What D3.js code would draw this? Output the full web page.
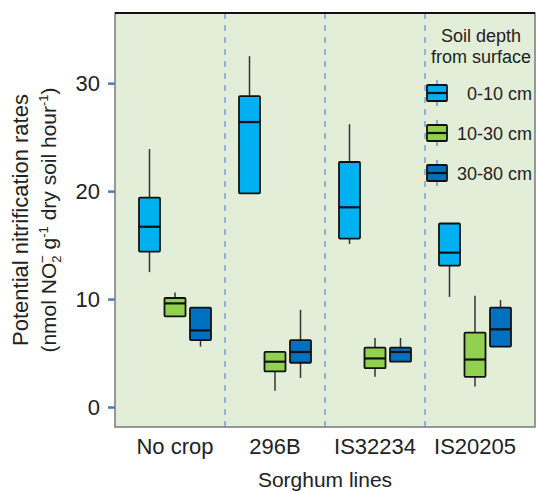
<!DOCTYPE html>
<html>
<head>
<meta charset="utf-8">
<script src="https://cdn.jsdelivr.net/npm/d3@7"></script>
<style>
  body { margin: 0; background: #fff; }
  text { font-family: "Liberation Sans", Arial, sans-serif; fill: #222; }
</style>
</head>
<body>
<div id="chart"></div>
<script>
// sorghum lines on the x axis, soil depths as series
var groups = ["No crop", "296B", "IS32234", "IS20205"];
var depths = ["0-10 cm", "10-30 cm", "30-80 cm"];
var colors = ["#00b0f0", "#92d050", "#0070c0"];
var yTicks = [0, 10, 20, 30];

// [whisker low, q1, median, q3, whisker high] per sorghum line
var depth0_10 = [[12.5, 14.4, 16.7, 19.4, 23.9], [19.8, 19.8, 26.4, 28.8, 32.5], [15.1, 15.6, 18.5, 22.7, 26.2], [10.2, 13.1, 14.3, 17.0, 17.0]];
var depth10_30 = [[8.4, 8.4, 9.6, 10.1, 10.6], [1.5, 3.3, 4.2, 5.1, 5.1], [2.8, 3.6, 4.5, 5.5, 6.4], [1.9, 2.8, 4.4, 6.9, 10.3]];
var depth30_80 = [[5.6, 6.2, 7.1, 9.2, 9.2], [2.7, 4.1, 5.1, 6.2, 9.0], [4.2, 4.2, 5.1, 5.5, 6.4], [5.6, 5.6, 7.2, 9.2, 9.9]];
var series = [depth0_10, depth10_30, depth30_80];

var width = 536, height = 491;
var plotL = 115, plotR = 535, plotT = 13, plotB = 427;
var boxW = 21;

var svg = d3.select("#chart").append("svg")
  .attr("width", width)
  .attr("height", height);

var x = d3.scaleBand().domain(groups).range([125, 525]).padding(0);
var xSub = d3.scalePoint().domain(depths).range([-25.5, 25.5]);
var y = d3.scaleLinear().domain([-1.85, 36.5]).range([plotB, plotT]);

// panel background
svg.append("rect")
  .attr("x", plotL).attr("y", plotT)
  .attr("width", plotR - plotL).attr("height", plotB - plotT)
  .style("fill", "#e3eed9");

// dashed dividers between sorghum lines
svg.selectAll(".divider")
  .data(groups.slice(1))
  .enter().append("line")
  .attr("x1", function(d) { return x(d); })
  .attr("x2", function(d) { return x(d); })
  .attr("y1", plotT).attr("y2", plotB)
  .style("stroke", "#6f93d3")
  .style("stroke-width", 1.3)
  .style("stroke-dasharray", "6,6");

// y axis
var yAxis = svg.append("g")
  .attr("transform", "translate(" + plotL + ",0)")
  .call(d3.axisLeft(y).tickValues(yTicks).tickSize(7).tickPadding(8));
yAxis.select(".domain").remove();
yAxis.selectAll(".tick line").style("stroke", "#4f78c4").style("stroke-width", 2.5);
yAxis.selectAll(".tick text")
  .style("font-size", "22px")
  .style("font-family", "Liberation Sans, Arial, sans-serif")
  .style("fill", "#222");

// x axis labels
var xAxis = svg.append("g")
  .attr("transform", "translate(0," + plotB + ")")
  .call(d3.axisBottom(x).tickSize(0).tickPadding(11));
xAxis.select(".domain").remove();
xAxis.selectAll(".tick text")
  .style("font-size", "22px")
  .style("font-family", "Liberation Sans, Arial, sans-serif")
  .style("fill", "#222");

// boxes
series.forEach(function(stats, si) {
  var g = svg.selectAll(".box" + si)
    .data(stats)
    .enter().append("g")
    .attr("transform", function(d, i) {
      return "translate(" + (x(groups[i]) + x.bandwidth() / 2 + xSub(depths[si])) + ",0)";
    });

  g.append("line")
    .attr("x1", 0).attr("x2", 0)
    .attr("y1", function(d) { return y(d[0]); })
    .attr("y2", function(d) { return y(d[4]); })
    .style("stroke", "#333")
    .style("stroke-width", 1.5);

  g.append("rect")
    .attr("x", -boxW / 2)
    .attr("width", boxW)
    .attr("y", function(d) { return y(d[3]); })
    .attr("height", function(d) { return y(d[1]) - y(d[3]); })
    .attr("rx", 1)
    .style("fill", colors[si])
    .style("stroke", "#111")
    .style("stroke-width", 1.8);

  g.append("line")
    .attr("x1", -boxW / 2).attr("x2", boxW / 2)
    .attr("y1", function(d) { return y(d[2]); })
    .attr("y2", function(d) { return y(d[2]); })
    .style("stroke", "#111")
    .style("stroke-width", 2.2);
});

// panel frame
svg.append("rect")
  .attr("x", plotL).attr("y", plotT)
  .attr("width", plotR - plotL).attr("height", plotB - plotT)
  .style("fill", "none")
  .style("stroke", "#7a7a7a")
  .style("stroke-width", 1.5);
svg.append("line")
  .attr("x1", plotL).attr("x2", plotR)
  .attr("y1", plotT).attr("y2", plotT)
  .style("stroke", "#111")
  .style("stroke-width", 2.2);

// legend
var legend = svg.append("g");
legend.append("text")
  .attr("x", 481).attr("y", 42)
  .attr("text-anchor", "middle")
  .style("font-size", "18px")
  .text("Soil depth");
legend.append("text")
  .attr("x", 481).attr("y", 63)
  .attr("text-anchor", "middle")
  .style("font-size", "18px")
  .text("from surface");

var item = legend.selectAll(".item")
  .data(depths)
  .enter().append("g")
  .attr("transform", function(d, i) { return "translate(437," + (93 + i * 40) + ")"; });
item.append("line")
  .attr("x1", 0).attr("x2", 0).attr("y1", -13).attr("y2", 13)
  .style("stroke", "#6f93d3").style("stroke-width", 1.5);
item.append("rect")
  .attr("x", -10).attr("y", -8).attr("width", 20).attr("height", 16)
  .attr("rx", 1)
  .style("fill", function(d, i) { return colors[i]; })
  .style("stroke", "#111").style("stroke-width", 1.8);
item.append("line")
  .attr("x1", -10).attr("x2", 10).attr("y1", 0).attr("y2", 0)
  .style("stroke", "#111").style("stroke-width", 2.2);
item.append("text")
  .attr("x", 95).attr("y", 6.5)
  .attr("text-anchor", "end")
  .style("font-size", "18px")
  .text(function(d) { return d; });

// axis titles
svg.append("text")
  .attr("x", (plotL + plotR) / 2).attr("y", 487)
  .attr("text-anchor", "middle")
  .style("font-size", "21px")
  .text("Sorghum lines");

var yl = svg.append("g").attr("transform", "translate(0," + (plotT + plotB) / 2 + ")");
yl.append("text")
  .attr("transform", "translate(28,0) rotate(-90)")
  .attr("text-anchor", "middle")
  .style("font-size", "22px")
  .text("Potential nitrification rates");

var l2 = yl.append("text")
  .attr("transform", "translate(56,0) rotate(-90)")
  .attr("text-anchor", "middle")
  .style("font-size", "21px");
l2.append("tspan").text("(nmol NO");
l2.append("tspan").attr("dy", 5).style("font-size", "13px").text("2");
l2.append("tspan").attr("dy", -14).attr("dx", -8).style("font-size", "14px").text("\u2212");
l2.append("tspan").attr("dy", 9).text(" g");
l2.append("tspan").attr("dy", -8).style("font-size", "13px").text("-1");
l2.append("tspan").attr("dy", 8).text(" dry soil hour");
l2.append("tspan").attr("dy", -8).style("font-size", "13px").text("-1");
l2.append("tspan").attr("dy", 8).text(")");
</script>
</body>
</html>
